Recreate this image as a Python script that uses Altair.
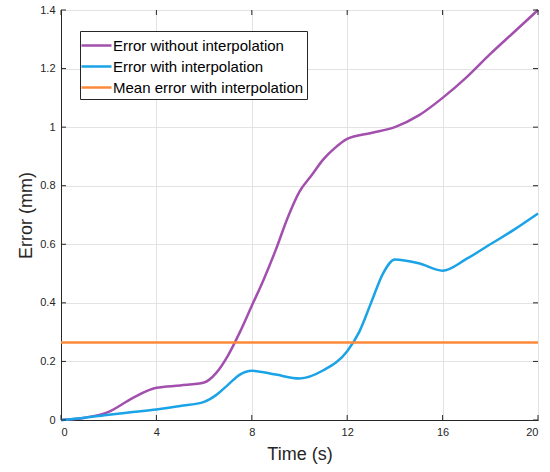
import altair as alt
import pandas as pd

# ---- data ----
t_without = [0, 1, 2, 3, 4, 5, 6, 6.5, 7, 7.5, 8, 8.5, 9, 9.5, 10, 10.5, 11, 11.5, 12, 13, 14, 15, 16, 17, 18, 19, 20]
e_without = [0, 0.008, 0.028, 0.075, 0.11, 0.118, 0.128, 0.16, 0.22, 0.3, 0.39, 0.48, 0.58, 0.69, 0.78, 0.835, 0.89, 0.93, 0.96, 0.98, 1.0, 1.04, 1.1, 1.17, 1.25, 1.325, 1.4]

t_with = [0, 1, 2, 3, 4, 5, 6, 6.5, 7, 7.5, 8, 9, 10, 11, 12, 12.5, 13, 13.5, 14, 15, 16, 17, 18, 19, 20]
e_with = [0, 0.008, 0.018, 0.027, 0.036, 0.048, 0.062, 0.085, 0.12, 0.155, 0.168, 0.155, 0.142, 0.17, 0.235, 0.3, 0.4, 0.5, 0.548, 0.535, 0.51, 0.55, 0.6, 0.65, 0.705]

t_mean = [0, 20]
e_mean = [0.265, 0.265]

series_names = ["Error without interpolation", "Error with interpolation", "Mean error with interpolation"]
series_colors = ["#a24fae", "#1aa3e6", "#fd8a3a"]

x_ticks = [0, 4, 8, 12, 16, 20]
y_ticks = [0, 0.2, 0.4, 0.6, 0.8, 1, 1.2, 1.4]

rows = []
for t, e in zip(t_without, e_without):
    rows.append({"t": t, "e": e, "s": series_names[0], "o": 0})
for t, e in zip(t_with, e_with):
    rows.append({"t": t, "e": e, "s": series_names[1], "o": 1})
for t, e in zip(t_mean, e_mean):
    rows.append({"t": t, "e": e, "s": series_names[2], "o": 2})
df = pd.DataFrame(rows)

W, H = 477, 410
FONT = "Liberation Sans"
AXC = "#262626"

xscale = alt.Scale(domain=[0, 20], nice=False, zero=False)
yscale = alt.Scale(domain=[0, 1.4], nice=False, zero=False)

lines = alt.Chart(df).mark_line(strokeWidth=2.5, interpolate="monotone").encode(
    x=alt.X("t:Q", scale=xscale, title="Time (s)",
            axis=alt.Axis(values=x_ticks, grid=True, tickSize=0, labelPadding=6,
                          labelFontSize=11, titleFontSize=18, titlePadding=8, format="d")),
    y=alt.Y("e:Q", scale=yscale, title="Error (mm)",
            axis=alt.Axis(values=y_ticks, grid=True, tickSize=0, labelPadding=6,
                          labelFontSize=11, titleFontSize=18, titlePadding=4, format="~g")),
    color=alt.Color("s:N", sort=series_names,
                    scale=alt.Scale(domain=series_names, range=series_colors),
                    legend=alt.Legend(title=None, orient="none", legendX=19, legendY=21,
                                      symbolType="M-1.5,0H1.5", symbolSize=400, symbolStrokeWidth=2.5,
                                      labelFontSize=15, labelFont=FONT, labelColor="#000000",
                                      fillColor="white", strokeColor=AXC, padding=3,
                                      rowPadding=1, symbolOffset=2, labelOffset=5,
                                      labelLimit=400)),
    order="o:Q",
    detail="s:N",
)

xt = pd.DataFrame({"t": x_ticks})
yt = pd.DataFrame({"e": y_ticks})
tick_bottom = alt.Chart(xt).mark_rule(color=AXC, strokeWidth=1).encode(
    x=alt.X("t:Q", scale=xscale), y=alt.value(H), y2=alt.value(H - 5))
tick_top = alt.Chart(xt).mark_rule(color=AXC, strokeWidth=1).encode(
    x=alt.X("t:Q", scale=xscale), y=alt.value(0), y2=alt.value(5))
tick_left = alt.Chart(yt).mark_rule(color=AXC, strokeWidth=1).encode(
    y=alt.Y("e:Q", scale=yscale), x=alt.value(0), x2=alt.value(5))
tick_right = alt.Chart(yt).mark_rule(color=AXC, strokeWidth=1).encode(
    y=alt.Y("e:Q", scale=yscale), x=alt.value(W), x2=alt.value(W - 5))

chart = alt.layer(lines, tick_bottom, tick_top, tick_left, tick_right).properties(
    width=W, height=H,
    autosize=alt.AutoSizeParams(type="none"),
    padding={"left": 61, "top": 10, "right": 12, "bottom": 52},
    background="white",
).configure_view(
    stroke=AXC, strokeWidth=1
).configure_axis(
    domainColor=AXC, labelColor=AXC, titleColor=AXC, labelFont=FONT, titleFont=FONT,
    gridColor="#e3e3e3", gridWidth=1, titleFontWeight="normal"
)

chart.save("out.html", embed_options={"renderer": "svg", "actions": False})
